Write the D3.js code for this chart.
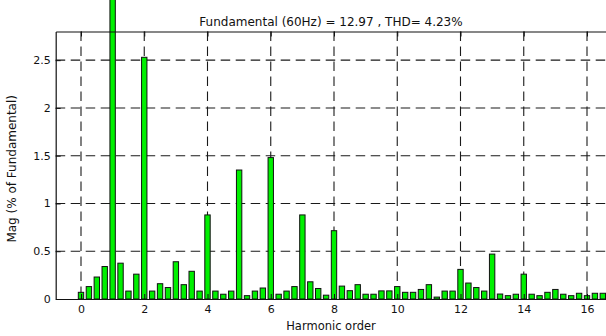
<!DOCTYPE html>
<html>
<head>
<meta charset="utf-8">
<script src="https://cdn.jsdelivr.net/npm/d3@7"></script>
<style>
  html, body { margin: 0; padding: 0; background: #fff; }
  svg { display: block; }
  text { font-family: "DejaVu Sans", "Liberation Sans", Arial, sans-serif; fill: #111; }
</style>
</head>
<body>
<svg id="chart" width="606" height="336"></svg>
<script>
// Harmonic spectrum, magnitude in % of the fundamental (15 Hz bins = 0.25 harmonic order)
const harmonicOrder = [
  0, 0.25, 0.5, 0.75, 1, 1.25, 1.5, 1.75,
  2, 2.25, 2.5, 2.75, 3, 3.25, 3.5, 3.75,
  4, 4.25, 4.5, 4.75, 5, 5.25, 5.5, 5.75,
  6, 6.25, 6.5, 6.75, 7, 7.25, 7.5, 7.75,
  8, 8.25, 8.5, 8.75, 9, 9.25, 9.5, 9.75,
  10, 10.25, 10.5, 10.75, 11, 11.25, 11.5, 11.75,
  12, 12.25, 12.5, 12.75, 13, 13.25, 13.5, 13.75,
  14, 14.25, 14.5, 14.75, 15, 15.25, 15.5, 15.75,
  16, 16.25, 16.5
];
const magnitude = [
  0.07, 0.13, 0.23, 0.34, 100, 0.375, 0.083, 0.26,
  2.53, 0.083, 0.16, 0.12, 0.39, 0.15, 0.29, 0.083,
  0.88, 0.083, 0.05, 0.083, 1.35, 0.035, 0.083, 0.115,
  1.48, 0.05, 0.083, 0.13, 0.88, 0.18, 0.11, 0.04,
  0.715, 0.135, 0.087, 0.15, 0.05, 0.05, 0.085, 0.085,
  0.13, 0.07, 0.07, 0.1, 0.15, 0.02, 0.083, 0.083,
  0.31, 0.167, 0.12, 0.083, 0.47, 0.052, 0.035, 0.05,
  0.26, 0.05, 0.035, 0.07, 0.1, 0.05, 0.035, 0.06,
  0.035, 0.06, 0.06
];
const xTicks = [0, 2, 4, 6, 8, 10, 12, 14, 16];
const yTicks = [0, 0.5, 1, 1.5, 2, 2.5];
const titleText = "Fundamental (60Hz) = 12.97 , THD= 4.23%";
const xLabel = "Harmonic order";
const yLabel = "Mag (% of Fundamental)";

const svg = d3.select("#chart");

const plotLeft = 55.7, plotTop = 31.5, plotBottom = 299;
const pxPerOrder = 31.625;
const xMin = -0.8, xMax = 17.2;
const x = d3.scaleLinear().domain([xMin, xMax]).range([plotLeft, plotLeft + (xMax - xMin) * pxPerOrder]);
const y = d3.scaleLinear().domain([0, 2.8]).range([plotBottom, plotTop]);
const plotRight = x.range()[1];

const barWidth = 0.17 * pxPerOrder;

// dashed grid
const grid = svg.append("g")
  .attr("stroke", "#1a1a1a").attr("stroke-width", 1.1).attr("stroke-dasharray", "9.5,5.5");
grid.selectAll("line.gx").data(xTicks).join("line")
  .attr("class", "gx")
  .attr("x1", d => x(d)).attr("x2", d => x(d))
  .attr("y1", plotTop).attr("y2", plotBottom);
grid.selectAll("line.gy").data(yTicks.filter(d => d > 0)).join("line")
  .attr("class", "gy")
  .attr("y1", d => y(d)).attr("y2", d => y(d))
  .attr("x1", plotLeft).attr("x2", plotRight);

// bars (fundamental runs off the top of the figure)
svg.append("g").selectAll("rect").data(harmonicOrder).join("rect")
  .attr("x", (d) => x(d) - barWidth / 2)
  .attr("width", barWidth)
  .attr("y", (d, i) => y(magnitude[i]))
  .attr("height", (d, i) => y(0) - y(magnitude[i]))
  .attr("fill", "#00f000")
  .attr("stroke", "#111")
  .attr("stroke-width", 1);

// axes with inward ticks
const xAxisBottom = d3.axisBottom(x).tickValues(xTicks).tickSizeInner(-5).tickSizeOuter(0);
const gxb = svg.append("g").attr("transform", `translate(0,${plotBottom})`).call(xAxisBottom);
const xAxisTop = d3.axisTop(x).tickValues(xTicks).tickSizeInner(-5).tickSizeOuter(0).tickFormat("");
const gxt = svg.append("g").attr("transform", `translate(0,${plotTop})`).call(xAxisTop);
const yAxisLeft = d3.axisLeft(y).tickValues(yTicks).tickSizeInner(-5).tickSizeOuter(0)
  .tickFormat(d => String(d));
const gyl = svg.append("g").attr("transform", `translate(${plotLeft},0)`).call(yAxisLeft);

[gxb, gxt, gyl].forEach(g => {
  g.select(".domain").attr("stroke", "#111").attr("stroke-width", 1.2);
  g.selectAll(".tick line").attr("stroke", "#111");
  g.selectAll(".tick text").attr("font-size", 11).attr("fill", "#111")
    .attr("font-family", "'DejaVu Sans', 'Liberation Sans', Arial, sans-serif");
});
gxb.selectAll(".tick text").attr("dy", "0.71em").attr("y", 6);
gyl.selectAll(".tick text").attr("x", -5);

// title and labels
svg.append("text").attr("x", 331).attr("y", 25.5).attr("text-anchor", "middle")
  .attr("font-size", 12).text(titleText);
svg.append("text").attr("x", 331).attr("y", 329.5).attr("text-anchor", "middle")
  .attr("font-size", 11.5).text(xLabel);
svg.append("text").attr("transform", "translate(15.5,95) rotate(-90)").attr("text-anchor", "end")
  .attr("font-size", 12).text(yLabel);
</script>
</body>
</html>
